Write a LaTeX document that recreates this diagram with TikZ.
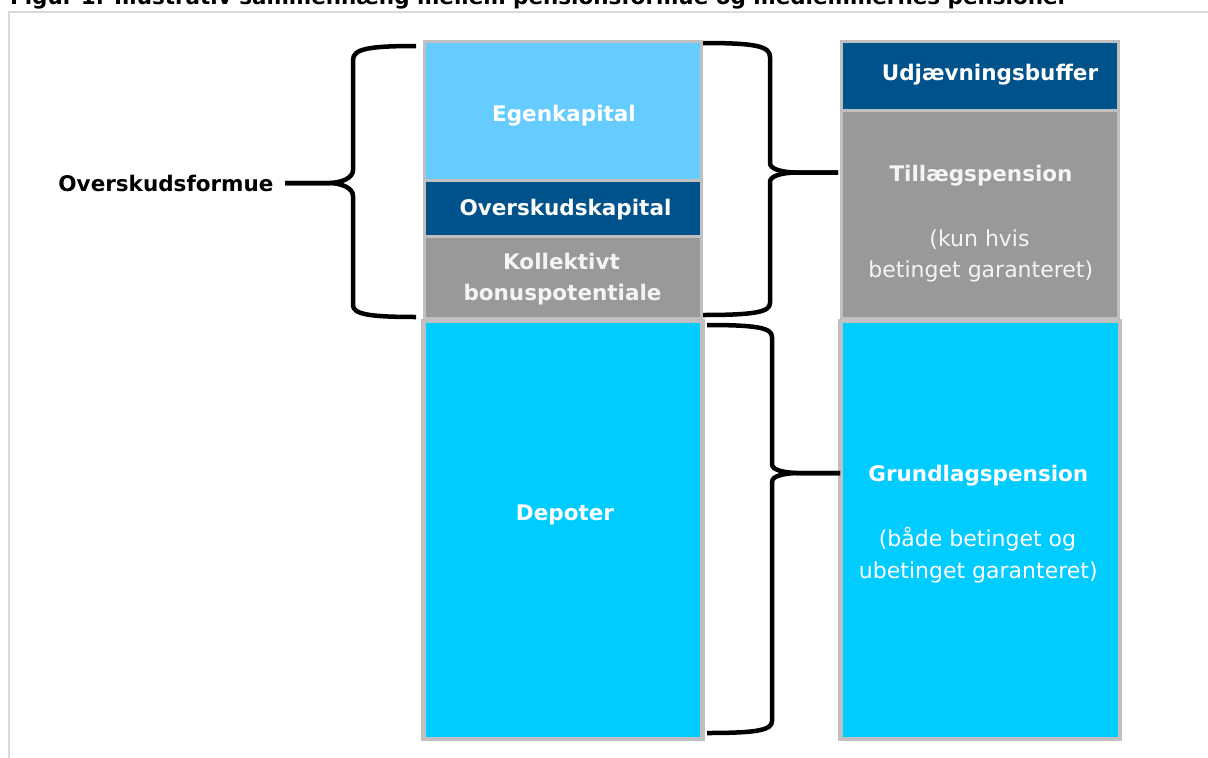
\documentclass[tikz,border=0pt]{standalone}
\usepackage{fontspec}
\setmainfont{DejaVu Sans}
\usetikzlibrary{fit}
\definecolor{lblue}{HTML}{66CCFF}
\definecolor{dblue}{HTML}{00528A}
\definecolor{mgray}{HTML}{999999}
\definecolor{cyanb}{HTML}{00CCFF}
\definecolor{bgray}{HTML}{C0C0C0}
\definecolor{fgray}{HTML}{DADADA}
\definecolor{offw}{HTML}{F4F4F4}
\begin{document}
\begin{tikzpicture}[x=1pt,y=-1pt,
  box/.style={draw=bgray, line width=3pt, inner sep=0pt},
  bigbox/.style={box, line width=4.5pt},
  blab/.style={font=\fontsize{21.5}{31}\selectfont\bfseries, text=white, anchor=base, inner sep=0pt},
  rlab/.style={font=\fontsize{22}{31}\selectfont, text=white, anchor=base, inner sep=0pt},
  brace/.style={draw=black, line width=4.5pt, line join=round}]
\clip (0,0) rectangle (1208,758);
\fill[white] (0,0) rectangle (1208,758);
% title (cut off at top)
\node[anchor=base west, inner sep=0pt, font=\fontsize{20}{24}\selectfont\bfseries] (title) at (10,4)
  {\resizebox{1058pt}{!}{Figur 1. Illustrativ sammenhæng mellem pensionsformue og medlemmernes pensioner}};
% frame
\draw[fgray, line width=1.5pt] (1212,12) -- (9,12) -- (9,762);
% left column
\node[box, fill=lblue, fit={(424.5,41.5) (701.5,180.5)}] (eg) {};
\node[box, fill=dblue, fit={(424.5,180.5) (701.5,236)}] (ok) {};
\node[box, fill=mgray, fit={(424.5,236) (701.5,318.5)}] (kb) {};
\node[bigbox, fill=cyanb, fit={(423.5,321) (702.5,739)}] (dep) {};
% right column
\node[box, fill=dblue, fit={(841.5,41.5) (1118.5,110.5)}] (ub) {};
\node[box, fill=mgray, fit={(841.5,110.5) (1118.5,318.5)}] (tp) {};
\node[bigbox, fill=cyanb, fit={(840.5,321) (1120,739)}] (gp) {};
% labels
\node[blab] (t-eg) at (564,121.5) {Egenkapital};
\node[blab] (t-ok) at (565.5,215) {Overskudskapital};
\node[blab, text=offw] (t-kb1) at (561.5,269) {Kollektivt};
\node[blab, text=offw] (t-kb2) at (562.5,300) {bonuspotentiale};
\node[blab] (t-dep) at (565,520) {Depoter};
\node[blab] (t-ub) at (990,80.5) {Udjævningsbuffer};
\node[blab, text=offw] (t-tp) at (981,181.5) {Tillægspension};
\node[rlab, text=offw] (t-tp2) at (979.5,246) {(kun hvis};
\node[rlab, text=offw] (t-tp3) at (980.8,277) {betinget garanteret)};
\node[blab] (t-gp) at (978.3,481.5) {Grundlagspension};
\node[rlab] (t-gp2) at (977.5,546.5) {(både betinget og};
\node[rlab] (t-gp3) at (978.3,578) {ubetinget garanteret)};
\node[blab, text=black] (t-of) at (166,191.5) {Overskudsformue};
% brace end points
\coordinate (lb-a) at (416,46);
\coordinate (lb-tip) at (285,183);
\coordinate (lb-b) at (416,317);
\coordinate (rb1-a) at (703,43);
\coordinate (rb1-tip) at (838,172.5);
\coordinate (rb1-b) at (703,315);
\coordinate (rb2-a) at (707,325);
\coordinate (rb2-tip) at (840,473);
\coordinate (rb2-b) at (707,733);
% left brace
\draw[brace] (lb-a) .. controls (368,46) and (353,49) .. (353,60) -- (353,170)
  .. controls (353,178) and (342,182.5) .. (330,183) -- (lb-tip);
\draw[brace] (lb-tip) -- (330,183) .. controls (342,183.5) and (353,188) .. (353,196) -- (353,305)
  .. controls (353,314) and (368,317) .. (lb-b);
% right brace (top)
\draw[brace] (rb1-a) .. controls (755,43) and (770,46) .. (770,57) -- (770,163)
  .. controls (770,169) and (781,172) .. (795,172.5) -- (rb1-tip);
\draw[brace] (rb1-tip) -- (795,172.5) .. controls (781,173) and (770,176) .. (770,182) -- (770,303)
  .. controls (770,312) and (755,315) .. (rb1-b);
% right brace (bottom)
\draw[brace] (rb2-a) .. controls (758,325) and (772,328) .. (772,337) -- (772,464)
  .. controls (772,470) and (783,472.5) .. (797,473) -- (rb2-tip);
\draw[brace] (rb2-tip) -- (797,473) .. controls (783,473.5) and (772,476) .. (772,482) -- (772,721)
  .. controls (772,730) and (758,733) .. (rb2-b);
\end{tikzpicture}
\end{document}
